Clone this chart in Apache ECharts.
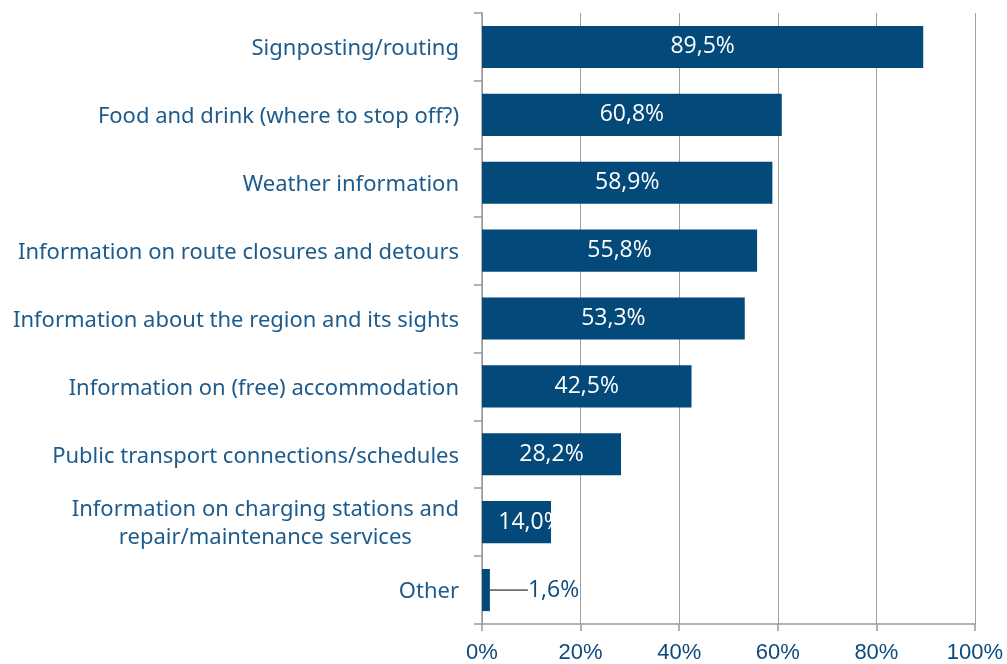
<!DOCTYPE html>
<html>
<head>
<meta charset="utf-8">
<script src="https://cdn.jsdelivr.net/npm/echarts@6/dist/echarts.min.js"></script>
<style>
  html, body { margin: 0; padding: 0; background: #fff; }
  #chart { width: 1007px; height: 664px; }
</style>
</head>
<body>
<div id="chart"></div>
<script>
// categories top to bottom
const categories = [
  'Signposting/routing',
  'Food and drink (where to stop off?)',
  'Weather information',
  'Information on route closures and detours',
  'Information about the region and its sights',
  'Information on (free) accommodation',
  'Public transport connections/schedules',
  'Information on charging stations and\nrepair/maintenance services',
  'Other'
];
const shares = [89.5, 60.8, 58.9, 55.8, 53.3, 42.5, 28.2, 14.0, 1.6];
const xTicks = [0, 20, 40, 60, 80, 100];

const barColor = '#034a7b';
const labelColor = '#1d5b8c';

const seriesData = shares.map((v, i) => {
  if (i === shares.length - 1) {
    return {
      value: v,
      label: { position: 'right', color: '#0b4a7e', distance: 6 },
      labelLine: { show: true, lineStyle: { color: '#000', width: 1 } }
    };
  }
  return v;
});

const chart = echarts.init(document.getElementById('chart'));
chart.setOption({
  animation: false,
  grid: { left: 482, right: 32, top: 13, bottom: 40 },
  xAxis: {
    type: 'value',
    min: 0,
    max: 100,
    interval: 20,
    axisLine: { show: true, lineStyle: { color: '#9a9a9a', width: 1.5 } },
    axisTick: { show: true, length: 7, lineStyle: { color: '#9a9a9a', width: 1.5 } },
    splitLine: { show: true, lineStyle: { color: '#a0a0a0', width: 1 } },
    axisLabel: {
      margin: 18,
      color: '#0b4a7e',
      fontFamily: 'Liberation Sans',
      fontSize: 22,
      formatter: v => xTicks.indexOf(v) >= 0 ? v + '%' : ''
    }
  },
  yAxis: {
    type: 'category',
    inverse: true,
    data: categories,
    axisLine: { show: true, lineStyle: { color: '#9a9a9a', width: 1.5 } },
    axisTick: { show: true, inside: false, length: 8, lineStyle: { color: '#9a9a9a', width: 1.5 } },
    axisLabel: {
      margin: 23,
      color: labelColor,
      fontFamily: 'Noto Sans',
      fontSize: 22,
      lineHeight: 28,
      padding: [4, 0, 0, 0],
      formatter: v => v.indexOf('\n') >= 0
        ? v.split('\n').map(s => '{c|' + s + '}').join('\n')
        : v,
      rich: {
        c: { align: 'center', color: labelColor, fontFamily: 'Noto Sans', fontSize: 22, lineHeight: 28 }
      }
    }
  },
  series: [{
    type: 'bar',
    data: seriesData,
    barCategoryGap: '38%',
    itemStyle: { color: barColor },
    label: {
      show: true,
      position: 'inside',
      color: '#fff',
      fontFamily: 'Open Sans',
      fontSize: 23,
      formatter: p => p.value.toFixed(1).replace('.', ',') + '%'
    },
    labelLine: { lineStyle: { color: '#000', width: 1 } },
    labelLayout: p => {
      if (p.dataIndex === shares.length - 1) return { dx: 32 };
      if (p.dataIndex === shares.length - 2) return { dx: 14 };
      return {};
    }
  }]
});
</script>
</body>
</html>
